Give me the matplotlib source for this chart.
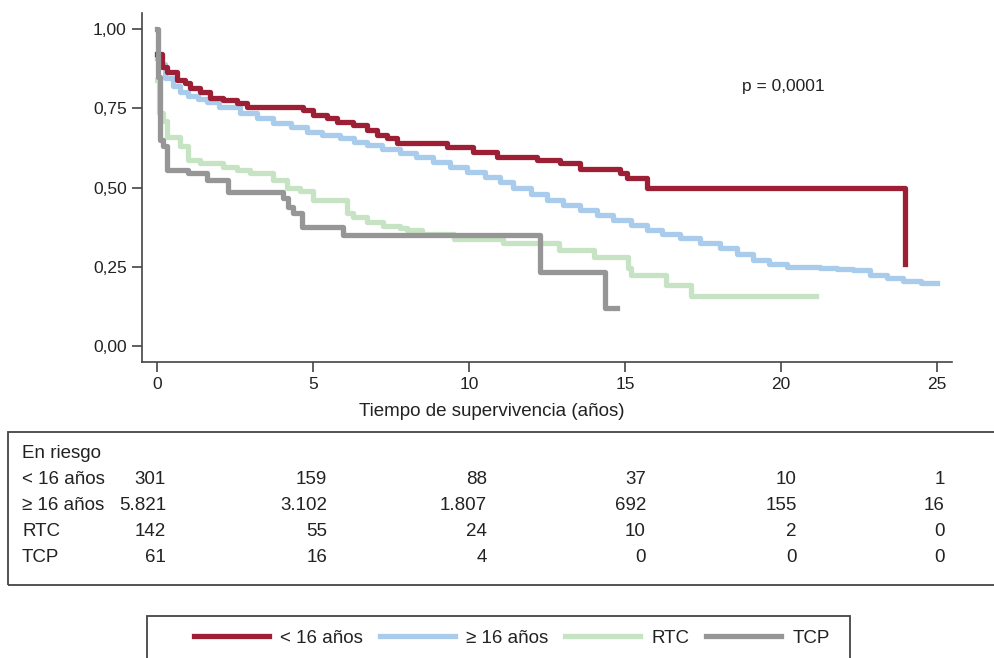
import numpy as np
import matplotlib
matplotlib.use('Agg')
import matplotlib.pyplot as plt
from matplotlib.patches import Rectangle

plt.rcParams['font.family'] = ['Liberation Sans', 'DejaVu Sans']

# curvas de supervivencia (tiempo en años, supervivencia)
t_lt16 = [0, 0.16, 0.32, 0.64, 0.90, 1.06, 1.38, 1.70, 2.12, 2.56, 2.88, 4.68, 5.00,
          5.45, 5.77, 6.28, 6.73, 7.05, 7.37, 7.69, 9.29, 10.13, 10.90, 12.18, 12.92,
          13.56, 14.84, 15.06, 15.70, 23.97]
s_lt16 = [0.92, 0.88, 0.865, 0.84, 0.83, 0.814, 0.80, 0.782, 0.776, 0.766, 0.754, 0.745, 0.73,
          0.72, 0.707, 0.697, 0.68, 0.665, 0.655, 0.64, 0.628, 0.612, 0.596, 0.587, 0.577,
          0.56, 0.545, 0.53, 0.50, 0.26]

t_ge16 = [0, 0.10, 0.26, 0.50, 0.74, 1.0, 1.3, 1.6, 2.0, 2.66, 3.2, 3.72, 4.3, 4.81, 5.3,
          5.87, 6.3, 6.73, 7.2, 7.79, 8.3, 8.85, 9.4, 9.94, 10.5, 11.0, 11.41, 12.0, 12.5,
          13.0, 13.56, 14.1, 14.62, 15.2, 15.71, 16.2, 16.76, 17.4, 18.04, 18.6, 19.1, 19.6,
          20.19, 20.7, 21.25, 21.8, 22.3, 22.85, 23.4, 23.91, 24.5, 25.0]
s_ge16 = [0.91, 0.89, 0.845, 0.82, 0.80, 0.79, 0.78, 0.77, 0.755, 0.735, 0.72, 0.703, 0.69, 0.675, 0.665,
          0.656, 0.645, 0.634, 0.622, 0.609, 0.595, 0.58, 0.565, 0.549, 0.533, 0.517, 0.498, 0.48, 0.46,
          0.445, 0.429, 0.413, 0.397, 0.382, 0.366, 0.353, 0.34, 0.325, 0.31, 0.29, 0.271, 0.26,
          0.25, 0.248, 0.245, 0.243, 0.24, 0.224, 0.215, 0.205, 0.20, 0.20]

t_rtc = [0, 0.05, 0.19, 0.32, 0.74, 0.99, 1.38, 2.12, 2.56, 2.98, 3.72, 4.17, 4.58, 5.0,
         6.09, 6.28, 6.73, 7.24, 7.79, 8.01, 8.49, 9.52, 11.1, 12.9, 14.0, 15.1, 15.2,
         16.3, 17.1, 21.12]
s_rtc = [0.84, 0.735, 0.71, 0.66, 0.63, 0.587, 0.577, 0.565, 0.555, 0.545, 0.524, 0.50, 0.49, 0.46,
         0.42, 0.407, 0.39, 0.38, 0.372, 0.366, 0.355, 0.337, 0.325, 0.303, 0.28, 0.246, 0.224,
         0.192, 0.157, 0.157]

t_tcp = [0, 0.03, 0.10, 0.20, 0.32, 1.0, 1.6, 2.28, 4.04, 4.2, 4.36, 4.65, 5.96, 12.28, 14.36, 14.74]
s_tcp = [1.0, 0.85, 0.65, 0.63, 0.555, 0.545, 0.524, 0.486, 0.467, 0.44, 0.42, 0.375, 0.35, 0.235, 0.12, 0.12]

grupos = ['< 16 años', '≥ 16 años', 'RTC', 'TCP']
colores = ['#9c1f36', '#a9cbec', '#c6e3c3', '#969696']

# número en riesgo
riesgo_lt16 = ['301', '159', '88', '37', '10', '1']
riesgo_ge16 = ['5.821', '3.102', '1.807', '692', '155', '16']
riesgo_rtc = ['142', '55', '24', '10', '2', '0']
riesgo_tcp = ['61', '16', '4', '0', '0', '0']

W, H = 995, 658
fig = plt.figure(figsize=(W / 100, H / 100), dpi=100)
ax = fig.add_axes([142 / W, 1 - 362 / H, (952 - 142) / W, (362 - 13) / H])

lw = 3.8
lb, = ax.plot(t_ge16, s_ge16, drawstyle='steps-post', color=colores[1], lw=lw, label=grupos[1])
lr, = ax.plot(t_lt16, s_lt16, drawstyle='steps-post', color=colores[0], lw=lw, label=grupos[0])
lg, = ax.plot(t_rtc, s_rtc, drawstyle='steps-post', color=colores[2], lw=lw, label=grupos[2])
lk, = ax.plot(t_tcp, s_tcp, drawstyle='steps-post', color=colores[3], lw=lw, label=grupos[3])

ax.set_xlim(-0.48, 25.48)
ax.set_ylim(-0.05, 1.0505)
ax.set_xticks([0, 5, 10, 15, 20, 25])
ax.set_yticks([0, 0.25, 0.5, 0.75, 1.0])
ax.set_yticklabels(['0,00', '0,25', '0,50', '0,75', '1,00'])
for s in ['top', 'right']:
    ax.spines[s].set_visible(False)
for s in ['left', 'bottom']:
    ax.spines[s].set_color('#444444')
    ax.spines[s].set_linewidth(1.2)
ax.tick_params(length=7, width=1.2, color='#444444', labelsize=12.5, pad=4, labelcolor='#222222')
fig.text(492 / W, 1 - 411 / H, 'Tiempo de supervivencia (años)', fontsize=13.5,
         ha='center', va='center', color='#222222')
ax.text(742 / W, 1 - 87 / H, 'p = 0,0001', transform=fig.transFigure, fontsize=12.5,
        va='center', ha='left', color='#222222')

# tabla de riesgo
fig.patches.append(Rectangle((8 / W, 1 - 585 / H), 1.0, (585 - 432) / H, transform=fig.transFigure,
                             fill=False, ec='#444444', lw=1.3))
col_x = [166, 327, 487, 646, 797, 945]
row_y = [479, 505, 531, 557]
fig.text(22 / W, 1 - 454 / H, 'En riesgo', fontsize=13.5, va='center', color='#222222')
for fila, nombre, y in zip([riesgo_lt16, riesgo_ge16, riesgo_rtc, riesgo_tcp], grupos, row_y):
    fig.text(22 / W, 1 - y / H, nombre, fontsize=13.5, va='center', color='#222222')
    for val, x in zip(fila, col_x):
        fig.text(x / W, 1 - y / H, val, fontsize=13.5, va='center', ha='right', color='#222222')

# leyenda
fig.patches.append(Rectangle((147 / W, -0.05), (850 - 147) / W, 0.05 + 1 - 616 / H,
                             transform=fig.transFigure, fill=False, ec='#444444', lw=1.3))
leg = fig.legend([lr, lb, lg, lk], grupos, loc='center', bbox_to_anchor=(512 / W, 1 - 638 / H),
                 ncol=4, frameon=False, fontsize=13.5, handlelength=4.0, handletextpad=0.6,
                 columnspacing=0.9)
for t in leg.get_texts():
    t.set_color('#222222')

fig.savefig('out.png', dpi=100)
